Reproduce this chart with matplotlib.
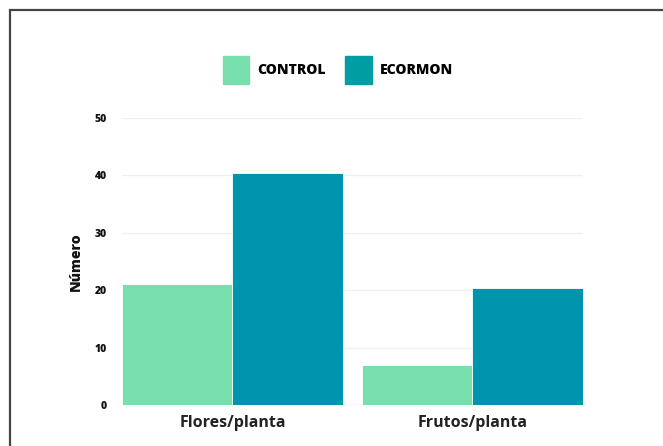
import numpy as np
import matplotlib.pyplot as plt
from matplotlib.patches import Patch, Rectangle

plt.rcParams['font.family'] = ['Open Sans', 'DejaVu Sans']

# data
categories = ['Flores/planta', 'Frutos/planta']
series = ['CONTROL', 'ECORMON']
control = [21.0, 7.0]
ecormon = [40.4, 20.4]
yticks = [0, 10, 20, 30, 40, 50]

c_control = '#77dfab'
c_ecormon = '#0094ad'
heavy = 800

fig = plt.figure(figsize=(6.63, 4.46), dpi=100)
ax = fig.add_axes([0.184, 0.0919, 0.695, 0.6435])

x = np.arange(len(categories))
w = 0.46
ax.bar(x - w / 2, control, width=w, color=c_control, edgecolor='white', linewidth=0.6, zorder=2)
ax.bar(x + w / 2, ecormon, width=w, color=c_ecormon, edgecolor='white', linewidth=0.6, zorder=2)

ax.set_xlim(-0.46, 1.46)
ax.set_ylim(0, 50)
ax.set_yticks(yticks)
ax.grid(axis='y', color='#f0f0f0', linewidth=1, zorder=0)
ax.axhline(0, color='#eeeeee', linewidth=1, zorder=1)
for s in ax.spines.values():
    s.set_visible(False)
ax.tick_params(axis='both', length=0)
ax.tick_params(axis='y', pad=11, labelsize=7.5)
ax.tick_params(axis='x', pad=7, labelsize=11.5)
ax.set_xticks(x)
ax.set_xticklabels(categories, fontweight='bold', color='#222222')
for t in ax.get_yticklabels():
    t.set_fontweight(heavy)
    t.set_color('#111111')
ax.set_ylabel('Número', fontsize=10, fontweight=heavy, color='#111111', labelpad=8)

handles = [Patch(color=c_control), Patch(color='#009ea3')]
fig.legend(handles, series, loc='center', bbox_to_anchor=(0.51, 0.843), ncol=2,
           frameon=False, handlelength=1.9, handleheight=2.7, handletextpad=0.6,
           columnspacing=1.4, prop={'weight': heavy, 'size': 10})

# frame around the card (top and left edges visible)
fig.add_artist(Rectangle((10 / 663, -0.05), 1.1, 1 - 9.5 / 446 + 0.05,
                         transform=fig.transFigure, fill=False,
                         edgecolor='#444444', linewidth=1.6))

fig.savefig('out.png', dpi=100)
